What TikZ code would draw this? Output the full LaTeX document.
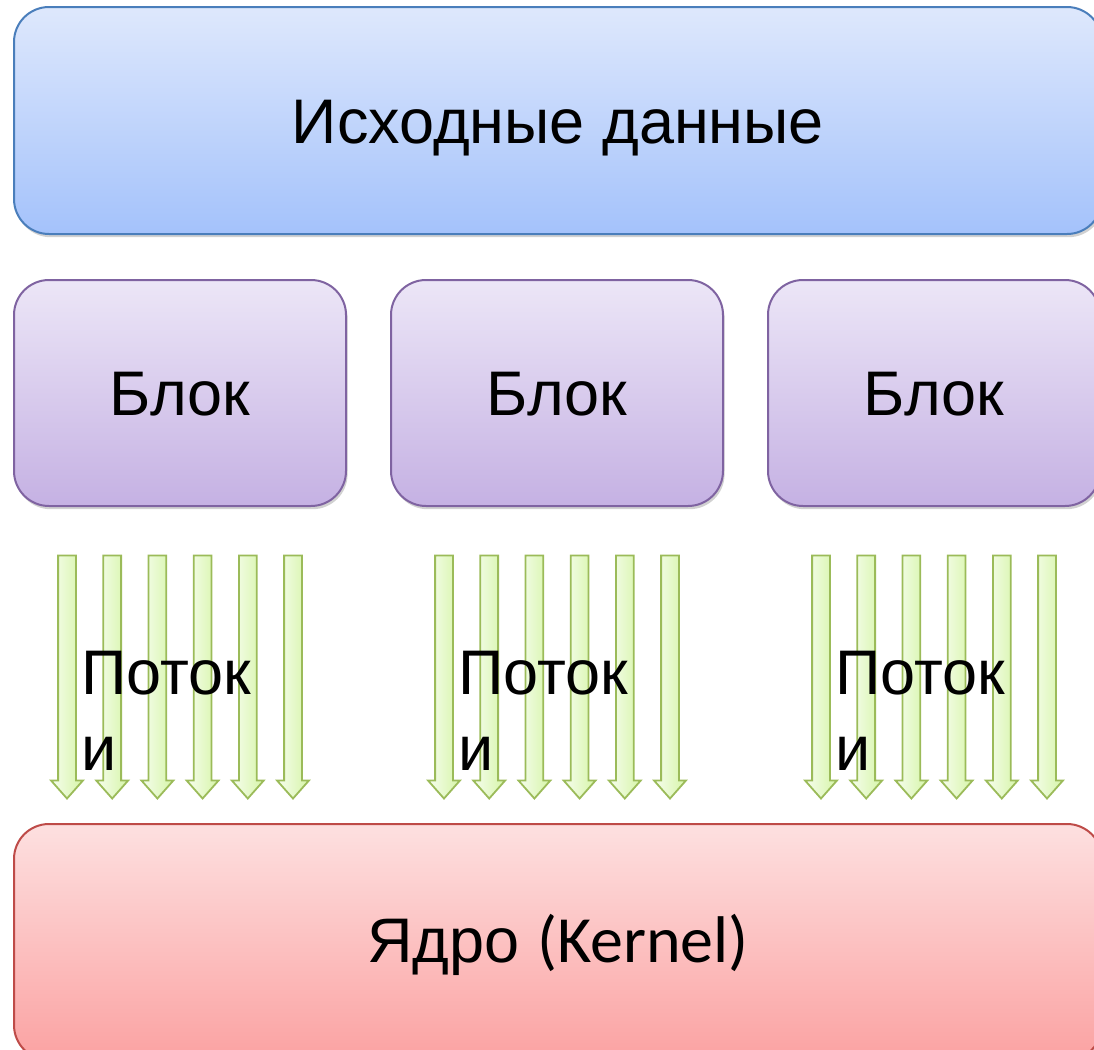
\documentclass[tikz,border=0pt]{standalone}
\usepackage{fontspec}
\setmainfont{Liberation Sans}
\newfontfamily\latinfont{Carlito}
\usetikzlibrary{positioning, calc, shapes.arrows, shadows}
\definecolor{datatop}{HTML}{DEE8FC}
\definecolor{databot}{HTML}{A4C2FB}
\definecolor{dataline}{HTML}{4A7EBB}
\definecolor{blocktop}{HTML}{ECE6F7}
\definecolor{blockbot}{HTML}{C5B1E3}
\definecolor{blockline}{HTML}{7F63A1}
\definecolor{kerntop}{HTML}{FDE0E0}
\definecolor{kernbot}{HTML}{FBA2A2}
\definecolor{kernline}{HTML}{BE4B48}
\definecolor{threadtop}{HTML}{F6FDEE}
\definecolor{threadbot}{HTML}{D6F5A8}
\definecolor{threadline}{HTML}{9BBB59}

\begin{document}
\begin{tikzpicture}[
  x=0.5pt, y=-0.5pt,
  every node/.style={font=\fontsize{31.5}{38}\selectfont, align=center, outer sep=0pt},
  softshadow/.style={drop shadow={shadow xshift=0.8pt, shadow yshift=-1.6pt, opacity=0.18, fill=black}},
  databox/.style={draw=dataline, line width=1pt, rounded corners=17.5pt, top color=datatop, bottom color=databot, softshadow, minimum width=544pt, minimum height=113.5pt, text height=22.5pt, text depth=0pt},
  blockbox/.style={draw=blockline, line width=1pt, rounded corners=17.5pt, top color=blocktop, bottom color=blockbot, softshadow, minimum width=166pt, minimum height=113pt, text height=22.5pt, text depth=0pt},
  kernbox/.style={draw=kernline, line width=1pt, rounded corners=17.5pt, top color=kerntop, bottom color=kernbot, softshadow, minimum width=544pt, minimum height=118pt, text height=20pt, text depth=0pt},
  thread/.style={single arrow, rotate=-90, draw=threadline, line width=0.9pt, left color=threadtop, right color=threadbot, minimum height=121.5pt, minimum width=15pt, single arrow head extend=3.5pt, single arrow tip angle=83, single arrow head indent=0pt, inner xsep=0pt, inner ysep=4pt},
  threadlabel/.style={align=left, anchor=base west, inner sep=0pt}
]
\clip (0,0) rectangle (1094,1050);

% input data on top
\node[databox] (data) at (558,120.5) {Исходные данные};

% three blocks
\node[blockbox, below right=23pt and 0pt of data.south west] (b1) {Блок};
\node[blockbox, right=22.5pt of b1] (b2) {Блок};
\node[blockbox, right=22.5pt of b2] (b3) {Блок};

% six threads under every block
\foreach \b in {b1,b2,b3}{
  \foreach \i in {0,...,5}
    \node[thread] (\b-t\i) at ($(\b.south west)+({53+45.2*\i},166)$) {};
  \node[threadlabel] (\b-lbl) at ($(\b.south west)+(67,264)$) {Поток\\и};
}

% kernel
\node[kernbox, below right=159pt and 0pt of b1.south west] (kern) {Ядро {\latinfont\fontsize{33}{38}\selectfont(Kernel)}};

\end{tikzpicture}
\end{document}
